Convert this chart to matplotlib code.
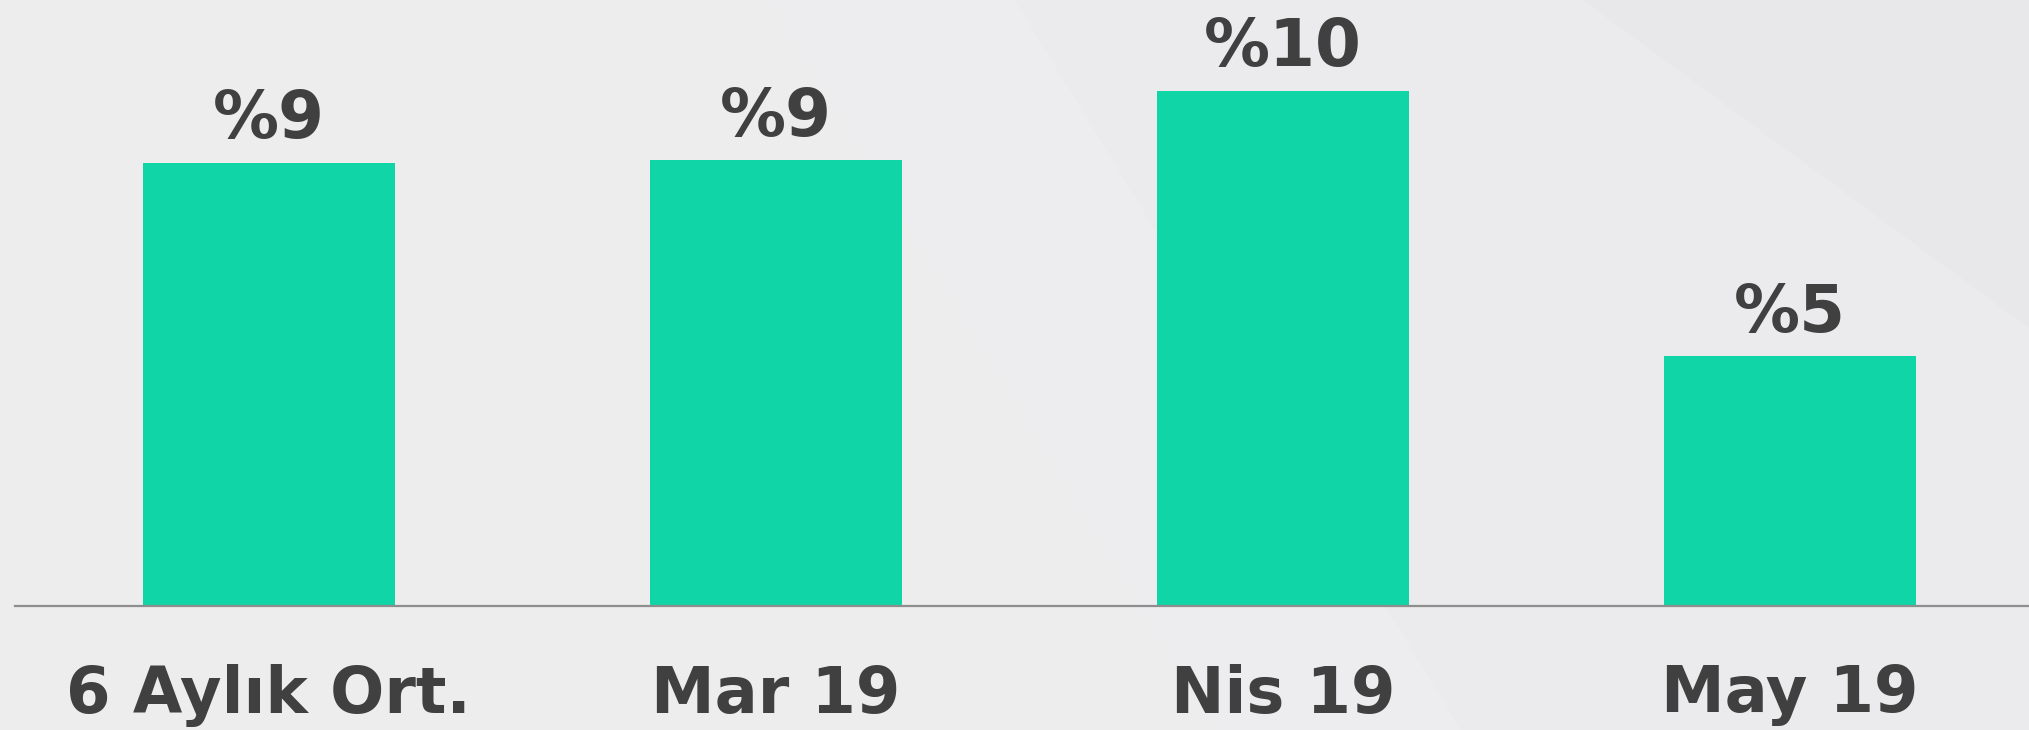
import matplotlib
matplotlib.use("Agg")
import matplotlib.pyplot as plt
from matplotlib.patches import Polygon

categories = ["6 Aylık Ort.", "Mar 19", "Nis 19", "May 19"]
values = [8.6, 8.65, 10.0, 4.85]
value_labels = ["%9", "%9", "%10", "%5"]

W, H, DPI = 2029, 730, 100
fig = plt.figure(figsize=(W / DPI, H / DPI), dpi=DPI)
fig.patch.set_facecolor("#EBEBED")

# subtle diagonal background bands
bg = fig.add_axes([0, 0, 1, 1], zorder=-10)
bg.set_xlim(0, 1); bg.set_ylim(0, 1); bg.axis("off")
bg.add_patch(Polygon([[0.0, 1], [0.38, 1], [0.60, 0], [0.0, 0]], closed=True,
                     facecolor="#EEEEEF", edgecolor="none", alpha=0.7))
bg.add_patch(Polygon([[0.38, 1], [0.50, 1], [0.72, 0], [0.60, 0]], closed=True,
                     facecolor="#F0F0F1", edgecolor="none", alpha=0.5))
bg.add_patch(Polygon([[0.78, 1], [1.0, 1], [1.0, 0.55]], closed=True,
                     facecolor="#E6E6E9", edgecolor="none", alpha=0.5))

base_px = 605.6
left_px = 15.5
ax = fig.add_axes([left_px / W, 1 - base_px / H, 1 - left_px / W, base_px / H])
ax.set_facecolor("none")

x = list(range(len(categories)))
bars = ax.bar(x, values, width=0.497, color="#0FD5A7", zorder=2)

ax.set_xlim(-0.499, 3.471)
ax.set_ylim(0, base_px / 51.5)

for spine in ["top", "right", "left"]:
    ax.spines[spine].set_visible(False)
ax.spines["bottom"].set_color("#8E8E8E")
ax.spines["bottom"].set_linewidth(1.6)
ax.set_yticks([])
ax.set_xticks(x)
ax.set_xticklabels(categories, fontsize=46, fontweight="bold", color="#404040",
                   family="DejaVu Sans")
ax.tick_params(axis="x", length=0, pad=42)

for rect, lab in zip(bars, value_labels):
    ax.annotate(lab, xy=(rect.get_x() + rect.get_width() / 2, rect.get_height()),
                xytext=(0, 17.5), textcoords="offset points",
                ha="center", va="baseline", fontsize=47.5, fontweight="bold",
                color="#404040", family="DejaVu Sans")

fig.savefig("out.png", dpi=DPI, facecolor=fig.get_facecolor())
